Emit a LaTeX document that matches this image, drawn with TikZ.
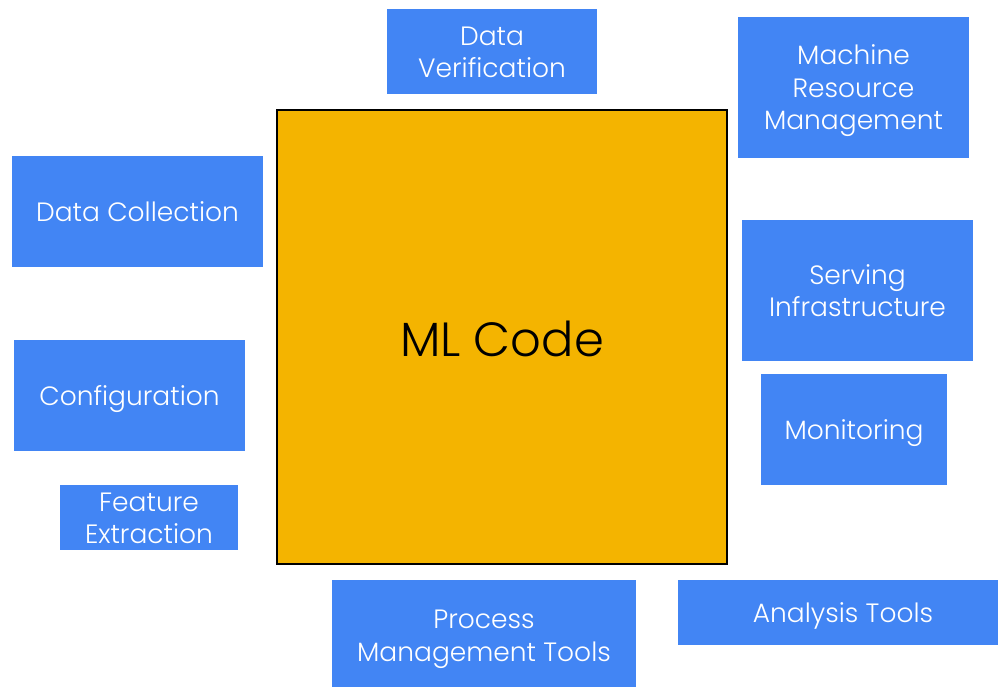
\documentclass[tikz,border=0pt]{standalone}
\usepackage{fontspec}
\setmainfont{Poppins}[UprightFont=* Light]
\definecolor{gblue}{HTML}{4285F4}
\definecolor{gyellow}{HTML}{F4B400}
\begin{document}
\begin{tikzpicture}[x=1pt,y=-1pt,
  box/.style={fill=gblue,inner sep=0pt},
  txt/.style={text=white,inner sep=0pt,align=center,
    font=\fontsize{26.5}{32.5}\selectfont},
  core/.style={fill=gyellow,draw=black,line width=2pt,inner sep=0pt},
  coretxt/.style={inner sep=0pt,font=\fontsize{48}{56}\selectfont}]
\useasboundingbox (0,0) rectangle (998,687);
% central block
\node[core,minimum width=450pt,minimum height=454pt] (ml) at (502,337) {};
\node[coretxt] (mlt) at ([yshift=-2pt]ml.center) {ML Code};
% surrounding components: rectangle, then its caption
\node[box,minimum width=210pt,minimum height=85pt]  (dv) at (492,51.5) {};
\node[txt] (dvt) at ([yshift=-1pt]dv.center) {Data\\Verification};
\node[box,minimum width=231pt,minimum height=141pt] (mr) at (853.5,87.5) {};
\node[txt] (mrt) at ([yshift=-3.5pt]mr.center) {Machine\\Resource\\Management};
\node[box,minimum width=251pt,minimum height=111pt] (dc) at (137.5,211.5) {};
\node[txt] (dct) at ([yshift=-0.5pt]dc.center) {Data Collection};
\node[box,minimum width=231pt,minimum height=141pt] (si) at (857.5,290.5) {};
\node[txt] (sit) at (si.center) {Serving\\Infrastructure};
\node[box,minimum width=231pt,minimum height=111pt] (cf) at (129.5,395.5) {};
\node[txt] (cft) at ([yshift=-4pt]cf.center) {Configuration};
\node[box,minimum width=186pt,minimum height=111pt] (mo) at (854,429.5) {};
\node[txt] (mot) at ([yshift=-4pt]mo.center) {Monitoring};
\node[box,minimum width=178pt,minimum height=65pt]  (fe) at (149,517.5) {};
\node[txt] (fet) at ([yshift=-1pt]fe.center) {Feature\\Extraction};
\node[box,minimum width=304pt,minimum height=107pt] (pm) at (484,633.5) {};
\node[txt] (pmt) at ([yshift=-6pt]pm.center) {Process\\Management Tools};
\node[box,minimum width=320pt,minimum height=65pt]  (at) at (838,612.5) {};
\node[txt] (att) at ([xshift=5pt,yshift=-3pt]at.center) {Analysis Tools};
\end{tikzpicture}
\end{document}
